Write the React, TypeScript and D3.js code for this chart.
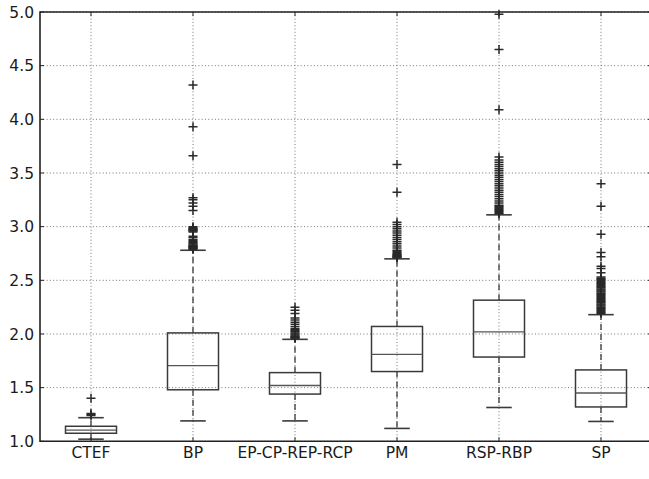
import React from "react";
import * as d3 from "d3";

const categories = ["CTEF", "BP", "EP-CP-REP-RCP", "PM", "RSP-RBP", "SP"];
const q1 = [1.075, 1.48, 1.44, 1.65, 1.785, 1.32];
const medians = [1.105, 1.705, 1.52, 1.81, 2.02, 1.45];
const q3 = [1.14, 2.01, 1.64, 2.07, 2.315, 1.665];
const whiskerLow = [1.02, 1.19, 1.19, 1.12, 1.315, 1.185];
const whiskerHigh = [1.22, 2.78, 1.95, 2.7, 3.11, 2.18];

const ctefOutliers = [1.24, 1.25, 1.26, 1.4];
const bpOutliers = [2.79, 2.795, 2.8, 2.805, 2.81, 2.815, 2.82, 2.825, 2.83, 2.84, 2.85, 2.86, 2.87, 2.88, 2.9, 2.91, 2.95, 2.96, 2.965, 2.97, 2.975, 2.98, 2.99, 3.0, 3.15, 3.19, 3.22, 3.25, 3.27, 3.66, 3.93, 4.32];
const epOutliers = [1.96, 1.965, 1.97, 1.975, 1.98, 1.99, 2.0, 2.01, 2.02, 2.03, 2.04, 2.05, 2.07, 2.09, 2.11, 2.13, 2.15, 2.19, 2.22, 2.25];
const pmOutliers = [2.71, 2.715, 2.72, 2.725, 2.73, 2.735, 2.74, 2.75, 2.76, 2.77, 2.78, 2.8, 2.82, 2.84, 2.86, 2.88, 2.9, 2.92, 2.94, 2.96, 2.98, 3.0, 3.02, 3.04, 3.32, 3.58];
const rspOutliers = [3.12, 3.13, 3.14, 3.15, 3.16, 3.17, 3.18, 3.19, 3.2, 3.22, 3.24, 3.26, 3.28, 3.3, 3.32, 3.34, 3.36, 3.38, 3.4, 3.42, 3.44, 3.46, 3.48, 3.5, 3.52, 3.54, 3.56, 3.58, 3.6, 3.62, 3.65, 4.09, 4.65, 4.98];
const spOutliers = [2.19, 2.2, 2.21, 2.22, 2.23, 2.24, 2.25, 2.26, 2.27, 2.28, 2.29, 2.3, 2.31, 2.32, 2.33, 2.34, 2.35, 2.36, 2.37, 2.38, 2.39, 2.4, 2.41, 2.42, 2.43, 2.44, 2.45, 2.46, 2.47, 2.48, 2.49, 2.5, 2.51, 2.52, 2.53, 2.57, 2.61, 2.63, 2.72, 2.76, 2.93, 3.19, 3.4];
const outliers = [ctefOutliers, bpOutliers, epOutliers, pmOutliers, rspOutliers, spOutliers];

const yTicks = [1.0, 1.5, 2.0, 2.5, 3.0, 3.5, 4.0, 4.5, 5.0];

const W = 649;
const H = 479;
const left = 40;
const right = 652;
const top = 12;
const bottom = 441.3;

export default function App() {
  const x = d3.scaleLinear().domain([0.5, 6.5]).range([left, right]);
  const y = d3.scaleLinear().domain([1, 5]).range([bottom, top]);
  const step = x(2) - x(1);
  const boxW = step * 0.5;
  const capW = step * 0.25;
  const font = "'DejaVu Sans', sans-serif";
  const ink = "#3a3a3a";
  const grid = "#777";
  const m = 4;

  return (
    <svg width={W} height={H} style={{ position: "absolute", left: 0, top: 0, background: "#fff" }}>
      <rect x={0} y={0} width={W} height={H} fill="#fff" />
      {yTicks.map((t) => (
        <line key={"gy" + t} x1={left} x2={right} y1={y(t)} y2={y(t)} stroke={grid} strokeWidth={1} strokeDasharray="1,2.3" />
      ))}
      {categories.map((c, i) => (
        <line key={"gx" + c} x1={x(i + 1)} x2={x(i + 1)} y1={top} y2={bottom} stroke={grid} strokeWidth={1} strokeDasharray="1,2.3" />
      ))}
      {categories.map((c, i) => {
        const cx = x(i + 1);
        return (
          <g key={"b" + c}>
            <line x1={cx} x2={cx} y1={y(q3[i])} y2={y(whiskerHigh[i])} stroke={ink} strokeWidth={1.3} strokeDasharray="6,4" />
            <line x1={cx} x2={cx} y1={y(q1[i])} y2={y(whiskerLow[i])} stroke={ink} strokeWidth={1.3} strokeDasharray="6,4" />
            <line x1={cx - capW / 2} x2={cx + capW / 2} y1={y(whiskerHigh[i])} y2={y(whiskerHigh[i])} stroke={ink} strokeWidth={1.6} />
            <line x1={cx - capW / 2} x2={cx + capW / 2} y1={y(whiskerLow[i])} y2={y(whiskerLow[i])} stroke={ink} strokeWidth={1.6} />
            <rect x={cx - boxW / 2} y={y(q3[i])} width={boxW} height={y(q1[i]) - y(q3[i])} fill="none" stroke={ink} strokeWidth={1.5} />
            <line x1={cx - boxW / 2} x2={cx + boxW / 2} y1={y(medians[i])} y2={y(medians[i])} stroke="#555" strokeWidth={1.3} />
            {outliers[i].map((v, k) => (
              <path key={k} d={`M${cx - 4.5},${y(v)}H${cx + 4.5}M${cx},${y(v) - 4.5}V${y(v) + 4.5}`} stroke="#2a2a2a" strokeWidth={1.5} fill="none" />
            ))}
          </g>
        );
      })}
      {yTicks.map((t) => (
        <g key={"ty" + t}>
          <line x1={left} x2={left + m} y1={y(t)} y2={y(t)} stroke="#222" strokeWidth={1} />
          <line x1={right - m} x2={right} y1={y(t)} y2={y(t)} stroke="#222" strokeWidth={1} />
          <text x={left - 6} y={y(t)} dy="0.36em" textAnchor="end" fontFamily={font} fontSize={15.5} fill="#1a1a1a">
            {t.toFixed(1)}
          </text>
        </g>
      ))}
      {categories.map((c, i) => (
        <g key={"tx" + c}>
          <line x1={x(i + 1)} x2={x(i + 1)} y1={bottom} y2={bottom - m} stroke="#222" strokeWidth={1} />
          <line x1={x(i + 1)} x2={x(i + 1)} y1={top} y2={top + m} stroke="#222" strokeWidth={1} />
          <text x={x(i + 1)} y={457.5} textAnchor="middle" fontFamily={font} fontSize={15.5} fill="#1a1a1a">
            {c}
          </text>
        </g>
      ))}
      <path d={`M${right},${top}H${left}V${bottom}H${right}`} fill="none" stroke="#222" strokeWidth={1.6} />
      <line x1={right} x2={right} y1={top} y2={bottom} stroke="#222" strokeWidth={1.6} />
    </svg>
  );
}
